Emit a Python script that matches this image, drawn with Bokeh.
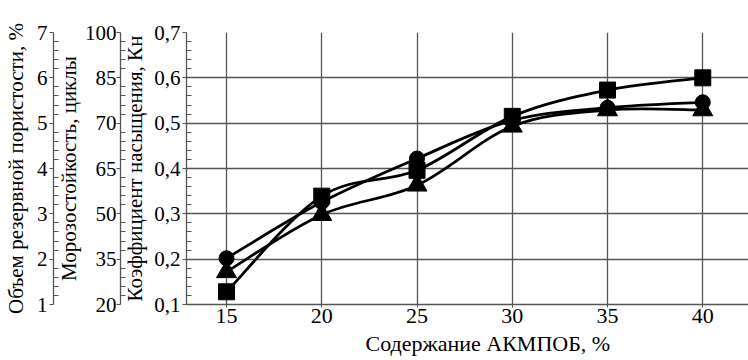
import numpy as np
from bokeh.plotting import figure
from bokeh.models import LinearAxis, Range1d, FixedTicker, CustomJSTickFormatter, Title
from bokeh.embed import file_html
from bokeh.resources import INLINE

# ---- data ----
content = [15, 20, 25, 30, 35, 40]                      # Содержание АКМПОБ, %
kn_square = [0.128, 0.339, 0.396, 0.515, 0.573, 0.600]
kn_circle = [0.202, 0.326, 0.422, 0.506, 0.534, 0.546]
kn_triangle = [0.172, 0.298, 0.363, 0.493, 0.529, 0.529]

kn_ticks = [0.1, 0.2, 0.3, 0.4, 0.5, 0.6, 0.7]
porosity_ticks = [1, 2, 3, 4, 5, 6, 7]
porosity_labels = ["1", "2", "3", "4", "5", "6", "7"]
frost_labels = ["20", "35", "50", "65", "70", "85", "100"]
x_ticks = [15, 20, 25, 30, 35, 40]
x_title = "Содержание АКМПОБ, %"

FONT = "Liberation Serif"
GRID = "#555555"

p = figure(width=748, height=360, output_backend="svg", toolbar_location=None,
           x_range=Range1d(12.9, 42.4), y_range=Range1d(0.1, 0.7),
           min_border_top=32, min_border_right=0, min_border_left=0, min_border_bottom=56)
p.outline_line_color = None
p.background_fill_color = "white"

p.extra_y_ranges = {"frost": Range1d(1, 7), "por": Range1d(1, 7)}


def minor(ticks, n=5):
    out = []
    for a, b in zip(ticks[:-1], ticks[1:]):
        step = (b - a) / n
        out += [a + step * k for k in range(1, n)]
    return out


def style_axis(ax, label, label_standoff, tick_standoff):
    ax.axis_label = label
    ax.axis_label_text_font = FONT
    ax.axis_label_text_font_size = "21px"
    ax.axis_label_text_font_style = "normal"
    ax.axis_label_text_color = "black"
    ax.major_label_text_font = FONT
    ax.major_label_text_font_size = "21px"
    ax.major_label_text_color = "black"
    ax.axis_line_color = GRID
    ax.axis_line_width = 1.3
    ax.major_tick_line_color = GRID
    ax.minor_tick_line_color = GRID
    ax.major_tick_out = 4
    ax.major_tick_in = 0
    ax.minor_tick_out = 0
    ax.minor_tick_in = 5
    ax.major_label_standoff = tick_standoff
    ax.axis_label_standoff = label_standoff


# innermost: Kн
kn_ax = p.yaxis[0]
kn_ax.ticker = FixedTicker(ticks=kn_ticks, minor_ticks=minor(kn_ticks))
kn_ax.formatter = CustomJSTickFormatter(code="return tick.toFixed(1).replace('.', ',');")
style_axis(kn_ax, "Коэффициент насыщения, Кн", 4, 2)

frost_ax = LinearAxis(y_range_name="frost")
frost_ax.ticker = FixedTicker(ticks=porosity_ticks, minor_ticks=minor(porosity_ticks))
frost_ax.major_label_overrides = {t: l for t, l in zip(porosity_ticks, frost_labels)}
style_axis(frost_ax, "Морозостойкость, циклы", 1, 0)
p.add_layout(frost_ax, "left")

por_ax = LinearAxis(y_range_name="por")
por_ax.ticker = FixedTicker(ticks=porosity_ticks, minor_ticks=minor(porosity_ticks))
por_ax.major_label_overrides = {t: l for t, l in zip(porosity_ticks, porosity_labels)}
style_axis(por_ax, "Объем резервной пористости, %", 6, 2)
p.add_layout(por_ax, "left")

xa = p.xaxis[0]
xa.ticker = FixedTicker(ticks=x_ticks)
style_axis(xa, None, 0, 1)
xa.major_label_text_font_size = "22px"
xa.major_tick_out = 3
xa.minor_tick_in = 0

# x-axis title, placed a little right of the frame centre as in the original
p.add_layout(Title(text=x_title, align="left", offset=179, standoff=6,
                   text_font=FONT, text_font_size="22px", text_font_style="normal",
                   text_color="black"), "below")

p.xgrid.ticker = FixedTicker(ticks=x_ticks)
p.ygrid.ticker = FixedTicker(ticks=kn_ticks)
for g in (p.xgrid[0], p.ygrid[0]):
    g.grid_line_color = GRID
    g.grid_line_width = 1.3
    g.grid_line_alpha = 1.0


def smooth(xs, ys):
    xs = np.asarray(xs, float)
    ys = np.asarray(ys, float)
    n = len(xs)
    x0, y0, x1, y1, cx0, cy0, cx1, cy1 = ([] for _ in range(8))
    for i in range(n - 1):
        pm = max(i - 1, 0)
        pp = min(i + 2, n - 1)
        x0.append(xs[i]); y0.append(ys[i])
        x1.append(xs[i + 1]); y1.append(ys[i + 1])
        cx0.append(xs[i] + (xs[i + 1] - xs[pm]) / 6)
        cy0.append(ys[i] + (ys[i + 1] - ys[pm]) / 6)
        cx1.append(xs[i + 1] - (xs[pp] - xs[i]) / 6)
        cy1.append(ys[i + 1] - (ys[pp] - ys[i]) / 6)
    return dict(x0=x0, y0=y0, x1=x1, y1=y1, cx0=cx0, cy0=cy0, cx1=cx1, cy1=cy1)


for series in (kn_square, kn_circle, kn_triangle):
    p.bezier(line_color="black", line_width=2.8, **smooth(content, series))

p.scatter(content, kn_square, marker="square", size=16, color="black")
p.scatter(content, kn_circle, marker="circle", size=15, color="black")
p.scatter(content, kn_triangle, marker="triangle", size=20, color="black")

open("out.html", "w").write(file_html(p, INLINE))
